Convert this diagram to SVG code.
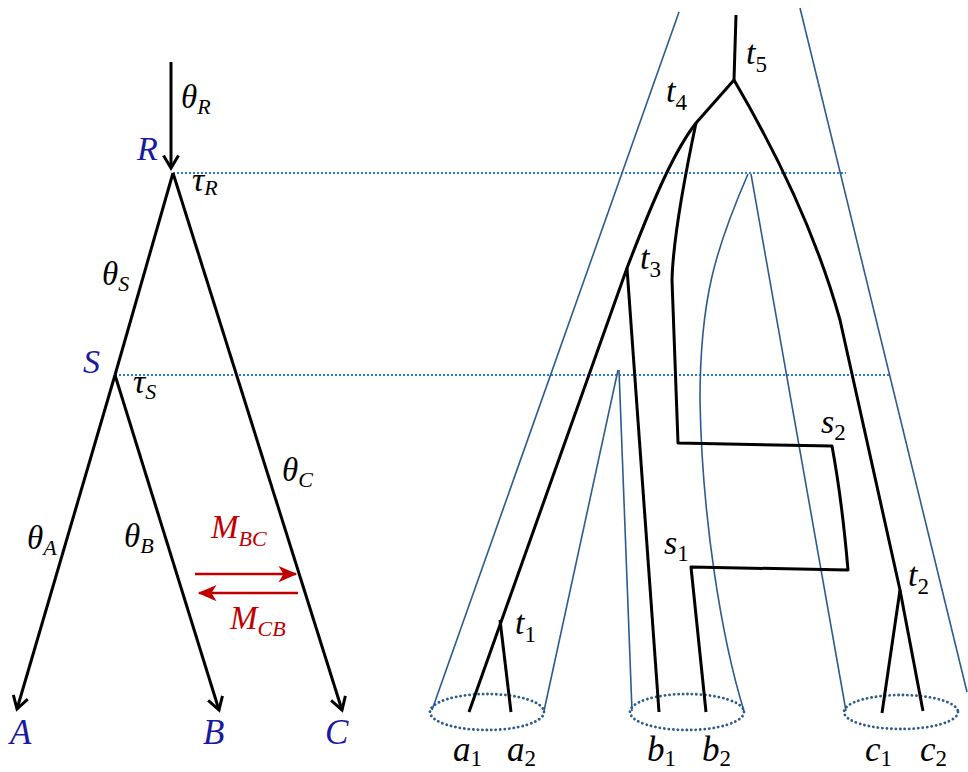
<svg xmlns="http://www.w3.org/2000/svg" width="968" height="772" viewBox="0 0 968 772">
<defs>
<style>
.m{font-family:"Liberation Serif","DejaVu Serif",serif;font-style:italic;fill:#000}
.n{font-family:"Liberation Serif","DejaVu Serif",serif;font-style:normal}
.blu{fill:#1a1aa0}
.red{fill:#c00000}
.br{fill:none;stroke:#000;stroke-width:3;stroke-linejoin:round}
.sp{fill:none;stroke:#2b5c8e;stroke-width:1.6}
.dot{fill:none;stroke:#2e79cc;stroke-width:2;stroke-dasharray:2 2}
.ell{fill:none;stroke:#2b5c8e;stroke-width:2.8;stroke-dasharray:0.1 4.4;stroke-linecap:round}
.ra{fill:none;stroke:#c00000;stroke-width:2.4}
</style>
<marker id="ah" markerUnits="userSpaceOnUse" markerWidth="20" markerHeight="20" viewBox="-12 -8 14 16" refX="0" refY="0" orient="auto">
<path d="M-10,-6 L0,0 L-10,6" fill="none" stroke="#000" stroke-width="2.4"/>
</marker>
<marker id="rh" markerUnits="userSpaceOnUse" markerWidth="24" markerHeight="20" viewBox="-16 -8 18 16" refX="0" refY="0" orient="auto">
<path d="M1,0 L-14,-6.5 L-10,0 L-14,6.5 Z" fill="#c00000"/>
</marker>
</defs>

<g id="guides">
<line class="dot" x1="173" y1="173" x2="846" y2="173"/>
<line class="dot" x1="115" y1="375" x2="889" y2="375"/>
</g>

<g id="connectors">
<line class="br" x1="171" y1="62" x2="171" y2="168" marker-end="url(#ah)"/>
<line class="br" x1="173" y1="173" x2="115" y2="375"/>
<line class="br" x1="173" y1="173" x2="342" y2="710" marker-end="url(#ah)"/>
<line class="br" x1="115" y1="375" x2="17" y2="709" marker-end="url(#ah)"/>
<line class="br" x1="115" y1="375" x2="219" y2="710" marker-end="url(#ah)"/>
<line class="ra" x1="195" y1="574" x2="296" y2="574" marker-end="url(#rh)"/>
<line class="ra" x1="298" y1="593" x2="199" y2="593" marker-end="url(#rh)"/>
</g>

<g id="node-R"><text class="m blu" x="137" y="160" font-size="34">R</text></g>
<g id="node-S"><text class="m blu" x="83" y="373" font-size="34">S</text></g>
<g id="node-A"><text class="m blu" x="10" y="744" font-size="35">A</text></g>
<g id="node-B"><text class="m blu" x="203" y="744" font-size="35">B</text></g>
<g id="node-C"><text class="m blu" x="325" y="744" font-size="35">C</text></g>

<g id="labels-left">
<text class="m" x="181" y="108" font-size="33">θ<tspan font-size="22" dy="6">R</tspan></text>
<text class="m" x="192" y="191" font-size="34">τ<tspan font-size="22" dy="4">R</tspan></text>
<text class="m" x="102" y="285" font-size="33">θ<tspan font-size="22" dy="6">S</tspan></text>
<text class="m" x="133" y="393" font-size="34">τ<tspan font-size="22" dy="6">S</tspan></text>
<text class="m" x="27" y="549" font-size="33">θ<tspan font-size="22" dy="6">A</tspan></text>
<text class="m" x="124" y="547" font-size="33">θ<tspan font-size="22" dy="6">B</tspan></text>
<text class="m" x="282" y="481" font-size="33">θ<tspan font-size="22" dy="6">C</tspan></text>
<text class="m red" x="211" y="538" font-size="33">M<tspan font-size="22" dy="8">BC</tspan></text>
<text class="m red" x="230" y="629" font-size="33">M<tspan font-size="22" dy="7">CB</tspan></text>
</g>

<g id="species-tree">
<line class="sp" x1="679" y1="12" x2="432" y2="710"/>
<line class="sp" x1="800" y1="8" x2="967" y2="692"/>
<line class="sp" x1="618" y1="370" x2="544" y2="711"/>
<line class="sp" x1="619" y1="370" x2="632" y2="711"/>
<path class="sp" d="M748,174 C715,250 700,300 700,400 C702,520 722,640 744,711"/>
<line class="sp" x1="751" y1="174" x2="846" y2="711"/>
<ellipse class="ell" cx="487" cy="712" rx="57" ry="18"/>
<ellipse class="ell" cx="687" cy="712" rx="57" ry="18"/>
<ellipse class="ell" cx="901" cy="712" rx="57" ry="17"/>
</g>

<g id="gene-tree">
<path class="br" d="M736,15 L734,80"/>
<path class="br" d="M734,80 L696,123 C675,150 655,195 627,268 L469,712"/>
<path class="br" d="M500,620 L511,712"/>
<path class="br" d="M627,268 L659,712"/>
<path class="br" d="M734,80 C775,150 815,230 840,320 L900,590 L882,713"/>
<path class="br" d="M900,590 L923,711"/>
<path class="br" d="M696,123 C684,180 673,240 672,280 L678,443 L832,446 Q842,500 848,570 L691,567 L706,712"/>
</g>

<g id="labels-right">
<text class="m" x="746" y="64" font-size="34">t<tspan class="n" font-size="23" dy="8">5</tspan></text>
<text class="m" x="666" y="102" font-size="34">t<tspan class="n" font-size="23" dy="8">4</tspan></text>
<text class="m" x="640" y="269" font-size="34">t<tspan class="n" font-size="23" dy="8">3</tspan></text>
<text class="m" x="515" y="634" font-size="34">t<tspan class="n" font-size="23" dy="8">1</tspan></text>
<text class="m" x="908" y="586" font-size="34">t<tspan class="n" font-size="23" dy="8">2</tspan></text>
<text class="m" x="821" y="433" font-size="34">s<tspan class="n" font-size="23" dy="7">2</tspan></text>
<text class="m" x="664" y="554" font-size="34">s<tspan class="n" font-size="23" dy="7">1</tspan></text>
<text class="m" x="453" y="761" font-size="35">a<tspan class="n" font-size="23" dy="5">1</tspan></text>
<text class="m" x="507" y="761" font-size="35">a<tspan class="n" font-size="23" dy="5">2</tspan></text>
<text class="m" x="647" y="761" font-size="35">b<tspan class="n" font-size="23" dy="5">1</tspan></text>
<text class="m" x="702" y="761" font-size="35">b<tspan class="n" font-size="23" dy="5">2</tspan></text>
<text class="m" x="865" y="761" font-size="35">c<tspan class="n" font-size="23" dy="5">1</tspan></text>
<text class="m" x="920" y="761" font-size="35">c<tspan class="n" font-size="23" dy="5">2</tspan></text>
</g>
</svg>
